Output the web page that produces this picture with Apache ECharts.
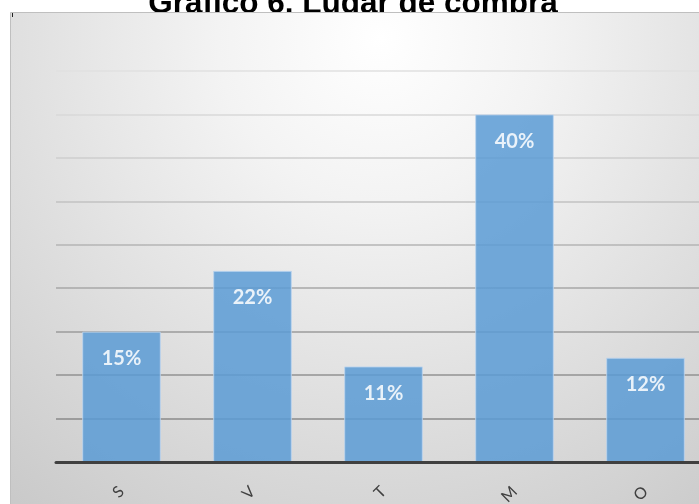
<!DOCTYPE html>
<html>
<head>
<meta charset="utf-8">
<script src="https://cdn.jsdelivr.net/npm/echarts@6/dist/echarts.min.js"></script>
<style>
  html, body { margin: 0; padding: 0; background: #ffffff; overflow: hidden; }
  #chart { width: 730px; height: 504px; }
</style>
</head>
<body>
<div id="chart"></div>
<script>
// Lugar de compra: share of respondents per place (percent)
const categories = ['S', 'V', 'T', 'M', 'O'];
const shares = [15, 22, 11, 40, 12];
const titleText = 'Gráfico 6. Lugar de compra';

// Gridlines fade from dark at the baseline to pale near the top
const gridColors = ['#7f7f7f', '#8a8a8a', '#929292', '#9b9b9b', '#a7a7a7',
                    '#b4b4b4', '#c2c2c2', '#cecece', '#d8d8d8', '#e0e0e0'];

const chart = echarts.init(document.getElementById('chart'), null, { renderer: 'canvas' });

chart.setOption({
  animation: false,
  backgroundColor: '#ffffff',
  title: {
    text: titleText,
    left: 348,
    textAlign: 'center',
    top: -17,
    z: 0,
    textStyle: {
      fontFamily: '"Liberation Sans", Arial, sans-serif',
      fontWeight: 'bold',
      fontSize: 31.5,
      color: '#000000'
    }
  },
  graphic: [
    {
      type: 'rect',
      z: 1,
      silent: true,
      shape: { x: 10.5, y: 12.5, width: 740, height: 520 },
      style: {
        fill: {
          type: 'radial', x: 0.5, y: 0.05, r: 1.25,
          colorStops: [
            { offset: 0, color: '#ffffff' },
            { offset: 0.25, color: '#f3f3f3' },
            { offset: 1, color: '#c4c4c4' }
          ]
        },
        stroke: '#bfbfbf',
        lineWidth: 1
      }
    },
    {
      type: 'rect',
      z: 2,
      silent: true,
      shape: { x: 12, y: 13, width: 1, height: 4 },
      style: { fill: '#202020' }
    }
  ],
  grid: { left: 56, top: 71, width: 655, bottom: 42, outerBoundsMode: 'none', containLabel: false },
  xAxis: {
    type: 'category',
    data: categories,
    axisTick: { show: false },
    axisLine: { show: true, lineStyle: { color: '#404040', width: 3 } },
    axisLabel: {
      rotate: 45,
      margin: 27,
      fontSize: 16,
      fontFamily: 'Lato, "Open Sans", sans-serif',
      color: '#404040'
    },
    z: 5
  },
  yAxis: {
    type: 'value',
    min: 0,
    max: 45,
    interval: 5,
    z: 2,
    axisLabel: { show: false },
    axisLine: { show: false },
    axisTick: { show: false },
    splitLine: { show: true, lineStyle: { color: gridColors, width: 1.5 } }
  },
  series: [{
    type: 'bar',
    data: shares,
    barCategoryGap: '40%',
    z: 3,
    itemStyle: {
      color: '#5b9bd5',
      opacity: 0.85,
      borderColor: '#bcd5ee',
      borderWidth: 1
    },
    label: {
      show: true,
      position: 'insideTop',
      distance: 17,
      formatter: '{c}%',
      fontFamily: 'Lato, "Open Sans", sans-serif',
      fontWeight: 'bold',
      fontSize: 20,
      color: '#ffffff'
    }
  }]
});
</script>
</body>
</html>
